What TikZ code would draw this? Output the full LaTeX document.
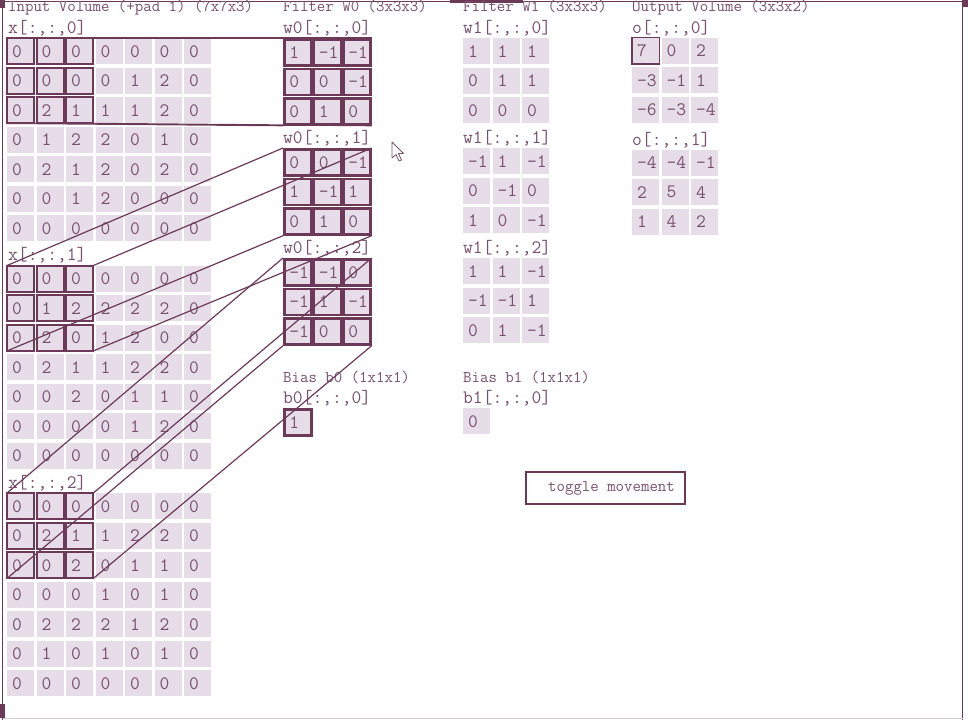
\documentclass[tikz,border=0pt]{standalone}
\usepackage{fontspec}
\definecolor{boxcol}{RGB}{108,58,88}
\definecolor{txtcol}{RGB}{120,80,110}
\definecolor{cellfill}{RGB}{230,221,233}
\newcommand{\cellfont}{\fontsize{19}{21}\selectfont\ttfamily}
\newcommand{\headfont}{\fontsize{16.4}{18}\selectfont\ttfamily}
\tikzset{
  cell/.style={rectangle, anchor=north west, fill=cellfill, inner sep=0pt,
    minimum width=27pt, minimum height=26pt, text width=17pt, align=left,
    font=\cellfont, text=txtcol},
  hl/.style={draw=boxcol, line width=2pt},
  wbox/.style={draw=boxcol, line width=2.7pt},
  obox/.style={draw=boxcol, line width=1.6pt},
  head/.style={anchor=base west, inner sep=0pt, font=\headfont, text=txtcol},
  idx/.style={anchor=base west, inner sep=0pt, font=\cellfont, text=txtcol},
  link/.style={draw=boxcol, line width=1.2pt},
  button/.style={draw=boxcol, line width=2pt, minimum width=159pt,
    minimum height=32pt, inner sep=0pt, font=\headfont, text=txtcol}
}
% one grid of cells, named <name>-<row>-<col>
\newcommand{\drawgrid}[5][]{%
  \foreach \row [count=\ri from 0] in {#5} {
    \foreach \v [count=\ci from 0] in \row {
      \node[cell,#1] (#2-\ri-\ci) at ({#3+29.5*\ci},{#4+29.5*\ri}) {\v};
    }
  }%
}
\begin{document}
\begin{tikzpicture}[x=1pt,y=-1pt]
    \useasboundingbox (0,0) rectangle (968,720);

    % window frame
    \draw[boxcol, line width=1pt] (0,1.5) -- (962.5,1.5) -- (962.5,720);
    \draw[boxcol, line width=1pt] (2.5,0) -- (2.5,720);
    \draw[boxcol!25, line width=0.8pt] (2.5,718.5) -- (962.5,718.5);
    \fill[boxcol] (0,0) rectangle (5,8);
    \fill[boxcol] (450,0) rectangle (523,2.5);
    \fill[boxcol] (962,0) rectangle (968,7);
    \fill[boxcol] (0,704) rectangle (5,718);

    % headings
    \node[head] (tin)  at (8,12)   {Input Volume (+pad 1) (7x7x3)};
    \node[head] (tw0)  at (283,12) {Filter W0 (3x3x3)};
    \node[head] (tw1)  at (463,12) {Filter W1 (3x3x3)};
    \node[head] (tout) at (632,12) {Output Volume (3x3x2)};

    % x[:,:,0]
    \node[idx] (lx0) at (8,33) {x[:,:,0]};
    \drawgrid{x0}{7}{38}{{0,0,0,0,0,0,0},{0,0,0,0,1,2,0},{0,2,1,1,1,2,0},
      {0,1,2,2,0,1,0},{0,2,1,2,0,2,0},{0,0,1,2,0,0,0},{0,0,0,0,0,0,0}}
    % x[:,:,1]
    \node[idx] (lx1) at (8,260.5) {x[:,:,1]};
    \drawgrid{x1}{7}{265.5}{{0,0,0,0,0,0,0},{0,1,2,2,2,2,0},{0,2,0,1,2,0,0},
      {0,2,1,1,2,2,0},{0,0,2,0,1,1,0},{0,0,0,0,1,2,0},{0,0,0,0,0,0,0}}
    % x[:,:,2]
    \node[idx] (lx2) at (8,488) {x[:,:,2]};
    \drawgrid{x2}{7}{493}{{0,0,0,0,0,0,0},{0,2,1,1,2,2,0},{0,0,2,0,1,1,0},
      {0,0,0,1,0,1,0},{0,2,2,2,1,2,0},{0,1,0,1,0,1,0},{0,0,0,0,0,0,0}}

    % receptive field
    \foreach \s in {0,1,2} {
      \foreach \ri in {0,1,2} {
        \foreach \ci in {0,1,2} {
          \draw[hl] (x\s-\ri-\ci.north west) rectangle (x\s-\ri-\ci.south east);
        }
      }
    }

    % W0
    \node[idx] (lw00) at (283,33)  {w0[:,:,0]};
    \drawgrid[wbox]{w00}{283}{38}{{1,-1,-1},{0,0,-1},{0,1,0}}
    \node[idx] (lw01) at (283,143) {w0[:,:,1]};
    \drawgrid[wbox]{w01}{283}{148}{{0,0,-1},{1,-1,1},{0,1,0}}
    \node[idx] (lw02) at (283,253) {w0[:,:,2]};
    \drawgrid[wbox]{w02}{283}{258}{{-1,-1,0},{-1,1,-1},{-1,0,0}}

    % W1
    \node[idx] (lw10) at (463,33)  {w1[:,:,0]};
    \drawgrid{w10}{463}{38}{{1,1,1},{0,1,1},{0,0,0}}
    \node[idx] (lw11) at (463,143) {w1[:,:,1]};
    \drawgrid{w11}{463}{148}{{-1,1,-1},{0,-1,0},{1,0,-1}}
    \node[idx] (lw12) at (463,253) {w1[:,:,2]};
    \drawgrid{w12}{463}{258}{{1,1,-1},{-1,-1,1},{0,1,-1}}

    % biases
    \node[head] (tb0) at (283,382) {Bias b0 (1x1x1)};
    \node[idx]  (lb0) at (283,403) {b0[:,:,0]};
    \node[cell,wbox] (b0) at (283,408) {1};
    \node[head] (tb1) at (463,382) {Bias b1 (1x1x1)};
    \node[idx]  (lb1) at (463,403) {b1[:,:,0]};
    \node[cell] (b1) at (463,408) {0};

    % output
    \node[idx] (lo0) at (632,33) {o[:,:,0]};
    \drawgrid{o0}{632}{37.5}{{7,0,2},{-3,-1,1},{-6,-3,-4}}
    \draw[obox] (o0-0-0.north west) rectangle (o0-0-0.south east);
    \node[idx] (lo1) at (632,145) {o[:,:,1]};
    \drawgrid{o1}{632}{149.5}{{-4,-4,-1},{2,5,4},{1,4,2}}

    \node[button] (toggle) at (605.5,488) {\hspace*{12pt}toggle movement};

    % window to filter
    \foreach \s in {0,1,2} {
      \draw[link] (x\s-0-0.north west) -- (w0\s-0-0.north west);
      \draw[link] (x\s-0-2.north east) -- (w0\s-0-2.north east);
      \draw[link] (x\s-2-0.south west) -- (w0\s-2-0.south west);
      \draw[link] (x\s-2-2.south east) -- (w0\s-2-2.south east);
    }

    % mouse pointer
    \draw[draw=boxcol!60!gray, fill=white, line width=0.8pt, line join=round]
      (392,142) -- (392,158) -- (396,154.5) -- (399,161) -- (401.5,160)
      -- (398.5,153.5) -- (403.5,153.5) -- cycle;
\end{tikzpicture}
\end{document}
